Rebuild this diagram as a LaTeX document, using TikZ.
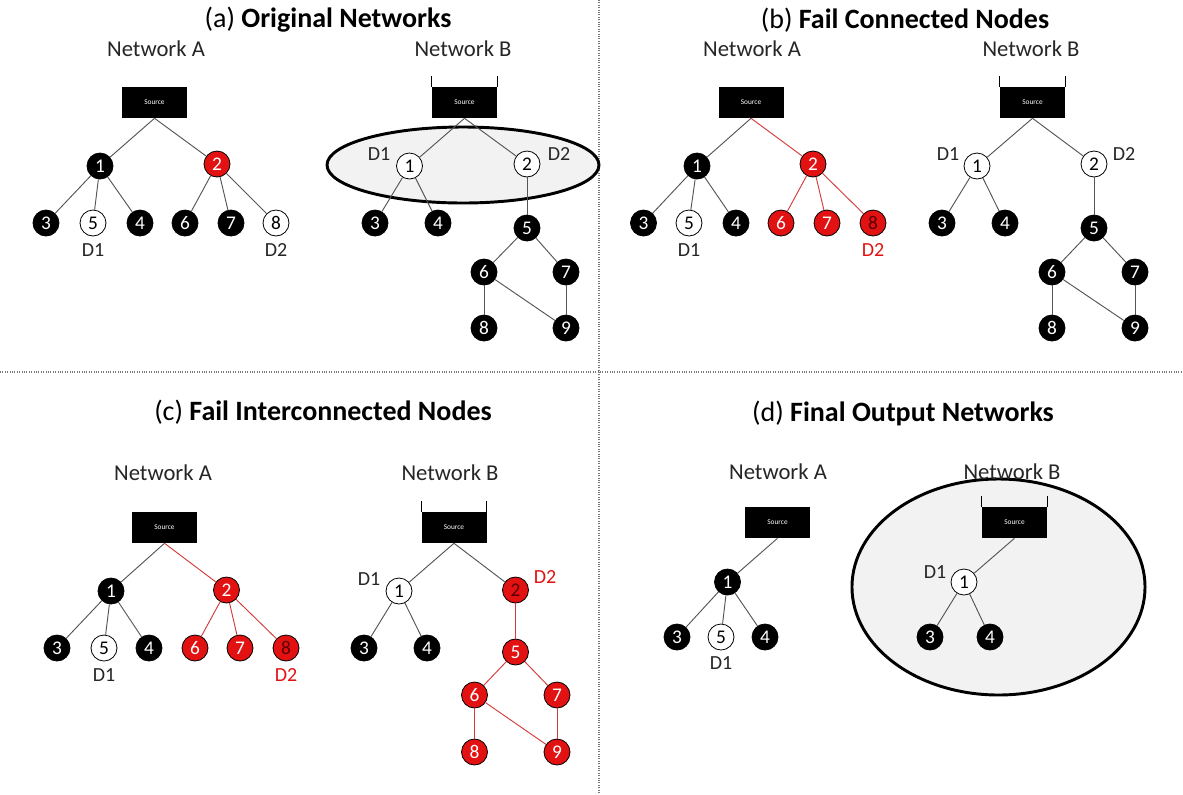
\documentclass[tikz,border=0pt]{standalone}
\usepackage{fontspec}
\setmainfont{Carlito}
\definecolor{nodered}{RGB}{226,18,18}
\definecolor{edgered}{RGB}{210,60,60}
\definecolor{edgegray}{RGB}{85,85,85}
\definecolor{ellfill}{RGB}{242,242,242}
\definecolor{dotgray}{RGB}{120,120,120}
\definecolor{darkdigit}{RGB}{90,0,0}
\begin{document}
\begin{tikzpicture}[x=0.75pt,y=-0.75pt,
  ndbase/.style={circle,draw=black,line width=0.6pt,minimum size=19.5pt,inner sep=0pt,font=\fontsize{14.5}{14.5}\selectfont},
  nblack/.style={ndbase,fill=black,text=white},
  nwhite/.style={ndbase,fill=white,text=black},
  nred/.style={ndbase,fill=nodered,text=white},
  nreddark/.style={ndbase,fill=nodered,text=darkdigit},
  srcbox/.style={rectangle,fill=black,minimum width=48.75pt,minimum height=23.25pt,inner sep=0pt,text=white,font=\fontsize{5.5}{6}\selectfont},
  tankline/.style={draw=black,line width=1pt},
  eg/.style={draw=edgegray,line width=0.7pt},
  er/.style={draw=edgered,line width=0.7pt},
  dlab/.style={font=\fontsize{15}{15}\selectfont,inner sep=0pt,text=black!85},
  dlabred/.style={dlab,text=nodered},
  netlab/.style={font=\fontsize{17}{17}\selectfont,inner sep=0pt,text=black!85},
  titlab/.style={font=\fontsize{21}{21}\selectfont,inner sep=0pt},
  hilite/.style={draw=black,line width=2.2pt,fill=ellfill},
  sepline/.style={draw=dotgray,line width=0.8pt,densely dotted}
]
\useasboundingbox[fill=white] (0,0) rectangle (1183,794);
% separators
\coordinate (hL) at (0,372); \coordinate (hR) at (1183,372);
\coordinate (vT) at (599,0); \coordinate (vB) at (599,794);
\draw[sepline] (hL) -- (hR);
\draw[sepline] (vT) -- (vB);

% ================= (a) =================
\node[titlab] (ta) at (328,20) {(a) \textbf{Original Networks}};
\node[netlab] (aNA) at (156,49) {Network A};
\node[netlab] (aNB) at (463,49) {Network B};
\node[srcbox] (aAS) at (154.5,102.5) {Source};
\node[nblack] (aA1) at (100,166) {1};
\node[nred]   (aA2) at (217,164) {2};
\node[nblack] (aA3) at (46,223) {3};
\node[nwhite] (aA5) at (93,223) {5};
\node[nblack] (aA4) at (140,223) {4};
\node[nblack] (aA6) at (185,223) {6};
\node[nblack] (aA7) at (231,223) {7};
\node[nwhite] (aA8) at (276,223) {8};
\node[dlab] (aAd1) at (93,250) {D1};
\node[dlab] (aAd2) at (276,250) {D2};
\draw[eg] (aAS.south) -- (aA1); \draw[eg] (aAS.south) -- (aA2);
\draw[eg] (aA1) -- (aA3); \draw[eg] (aA1) -- (aA5); \draw[eg] (aA1) -- (aA4);
\draw[eg] (aA2) -- (aA6); \draw[eg] (aA2) -- (aA7); \draw[eg] (aA2) -- (aA8);

\draw[hilite] (463,165) ellipse [x radius=102pt, y radius=28.5pt];
\node[srcbox] (aBS) at (464.5,102.5) {Source};
\draw[tankline] (aBS.north west) -- ++(0,-11);
\draw[tankline] (aBS.north east) -- ++(0,-11);
\node[nwhite] (aB1) at (409.5,166) {1};
\node[dlab] (aBd1) at (379,154) {D1};
\node[nwhite] (aB2) at (527,164) {2};
\node[dlab] (aBd2) at (559,154) {D2};
\node[nblack] (aB3) at (375,223) {3};
\node[nblack] (aB4) at (438,223) {4};
\node[nblack] (aB5) at (527,228) {5};
\node[nblack] (aB6) at (484,272) {6};
\node[nblack] (aB7) at (566,272) {7};
\node[nblack] (aB8) at (484,328) {8};
\node[nblack] (aB9) at (566,328) {9};
\draw[eg] (aBS.south) -- (aB1); \draw[eg] (aBS.south) -- (aB2);
\draw[eg] (aB1) -- (aB3); \draw[eg] (aB1) -- (aB4); \draw[eg] (aB2) -- (aB5);
\draw[eg] (aB5) -- (aB6); \draw[eg] (aB5) -- (aB7); \draw[eg] (aB6) -- (aB8);
\draw[eg] (aB6) -- (aB9); \draw[eg] (aB7) -- (aB9);

% ================= (b) =================
\node[titlab] (tb) at (905,20) {(b) \textbf{Fail Connected Nodes}};
\node[netlab] (bNA) at (752,49) {Network A};
\node[netlab] (bNB) at (1031,49) {Network B};
\node[srcbox] (bAS) at (751,102.5) {Source};
\node[nblack] (bA1) at (697,166) {1};
\node[nred]   (bA2) at (813,164) {2};
\node[nblack] (bA3) at (643.5,223) {3};
\node[nwhite] (bA5) at (689,223) {5};
\node[nblack] (bA4) at (736,223) {4};
\node[nred]   (bA6) at (781,223) {6};
\node[nred]   (bA7) at (827,223) {7};
\node[nreddark] (bA8) at (873,223) {8};
\node[dlab] (bAd1) at (689,250) {D1};
\node[dlabred] (bAd2) at (873,250) {D2};
\draw[eg] (bAS.south) -- (bA1); \draw[er] (bAS.south) -- (bA2);
\draw[eg] (bA1) -- (bA3); \draw[eg] (bA1) -- (bA5); \draw[eg] (bA1) -- (bA4);
\draw[er] (bA2) -- (bA6); \draw[er] (bA2) -- (bA7); \draw[er] (bA2) -- (bA8);

\node[srcbox] (bBS) at (1032.5,102.5) {Source};
\draw[tankline] (bBS.north west) -- ++(0,-11);
\draw[tankline] (bBS.north east) -- ++(0,-11);
\node[nwhite] (bB1) at (977,166) {1};
\node[dlab] (bBd1) at (948,154) {D1};
\node[nwhite] (bB2) at (1094,164) {2};
\node[dlab] (bBd2) at (1124,154) {D2};
\node[nblack] (bB3) at (942,223) {3};
\node[nblack] (bB4) at (1005,223) {4};
\node[nblack] (bB5) at (1094,228) {5};
\node[nblack] (bB6) at (1052,272) {6};
\node[nblack] (bB7) at (1135,272) {7};
\node[nblack] (bB8) at (1052,328) {8};
\node[nblack] (bB9) at (1135,328) {9};
\draw[eg] (bBS.south) -- (bB1); \draw[eg] (bBS.south) -- (bB2);
\draw[eg] (bB1) -- (bB3); \draw[eg] (bB1) -- (bB4); \draw[eg] (bB2) -- (bB5);
\draw[eg] (bB5) -- (bB6); \draw[eg] (bB5) -- (bB7); \draw[eg] (bB6) -- (bB8);
\draw[eg] (bB6) -- (bB9); \draw[eg] (bB7) -- (bB9);

% ================= (c) =================
\node[titlab] (tc) at (323,412) {(c) \textbf{Fail Interconnected Nodes}};
\node[netlab] (cNA) at (163,473) {Network A};
\node[netlab] (cNB) at (450,473) {Network B};
\node[srcbox] (cAS) at (164.5,527.5) {Source};
\node[nblack] (cA1) at (111,591) {1};
\node[nred]   (cA2) at (226.5,590) {2};
\node[nblack] (cA3) at (57,648) {3};
\node[nwhite] (cA5) at (104,648) {5};
\node[nblack] (cA4) at (149,648) {4};
\node[nred]   (cA6) at (195,648) {6};
\node[nred]   (cA7) at (240,648) {7};
\node[nreddark] (cA8) at (286,648) {8};
\node[dlab] (cAd1) at (104,675) {D1};
\node[dlabred] (cAd2) at (286,675) {D2};
\draw[eg] (cAS.south) -- (cA1); \draw[er] (cAS.south) -- (cA2);
\draw[eg] (cA1) -- (cA3); \draw[eg] (cA1) -- (cA5); \draw[eg] (cA1) -- (cA4);
\draw[er] (cA2) -- (cA6); \draw[er] (cA2) -- (cA7); \draw[er] (cA2) -- (cA8);

\node[srcbox] (cBS) at (454,527.5) {Source};
\draw[tankline] (cBS.north west) -- ++(0,-11);
\draw[tankline] (cBS.north east) -- ++(0,-11);
\node[nwhite] (cB1) at (399,591) {1};
\node[dlab] (cBd1) at (369,579) {D1};
\node[nreddark] (cB2) at (515.5,590) {2};
\node[dlabred] (cBd2) at (545,577) {D2};
\node[nblack] (cB3) at (364,648) {3};
\node[nblack] (cB4) at (427,648) {4};
\node[nred] (cB5) at (515.5,652) {5};
\node[nred] (cB6) at (474.5,695) {6};
\node[nred] (cB7) at (557,695) {7};
\node[nred] (cB8) at (474.5,752) {8};
\node[nred] (cB9) at (557,752) {9};
\draw[eg] (cBS.south) -- (cB1); \draw[eg] (cBS.south) -- (cB2);
\draw[eg] (cB1) -- (cB3); \draw[eg] (cB1) -- (cB4); \draw[er] (cB2) -- (cB5);
\draw[er] (cB5) -- (cB6); \draw[er] (cB5) -- (cB7); \draw[er] (cB6) -- (cB8);
\draw[er] (cB6) -- (cB9); \draw[er] (cB7) -- (cB9);

% ================= (d) =================
\node[titlab] (td) at (903,413) {(d) \textbf{Final Output Networks}};
\node[netlab] (dNA) at (778,472) {Network A};
\node[srcbox] (dAS) at (777.5,522.5) {Source};
\node[nblack] (dA1) at (727.5,582) {1};
\node[nblack] (dA3) at (677,637) {3};
\node[nwhite] (dA5) at (721,637) {5};
\node[nblack] (dA4) at (765,637) {4};
\node[dlab] (dAd1) at (721,663) {D1};
\draw[eg] (dAS.south) -- (dA1);
\draw[eg] (dA1) -- (dA3); \draw[eg] (dA1) -- (dA5); \draw[eg] (dA1) -- (dA4);

\draw[hilite] (998.5,587) ellipse [x radius=109.9pt, y radius=81pt];
\node[netlab] (dNB) at (1012,472) {Network B};
\node[srcbox] (dBS) at (1014.5,522.5) {Source};
\draw[tankline] (dBS.north west) -- ++(0,-11);
\draw[tankline] (dBS.north east) -- ++(0,-11);
\node[nwhite] (dB1) at (964,582) {1};
\node[dlab] (dBd1) at (935,572) {D1};
\node[nblack] (dB3) at (930,637) {3};
\node[nblack] (dB4) at (990,637) {4};
\draw[eg] (dBS.south) -- (dB1);
\draw[eg] (dB1) -- (dB3); \draw[eg] (dB1) -- (dB4);
\end{tikzpicture}
\end{document}
